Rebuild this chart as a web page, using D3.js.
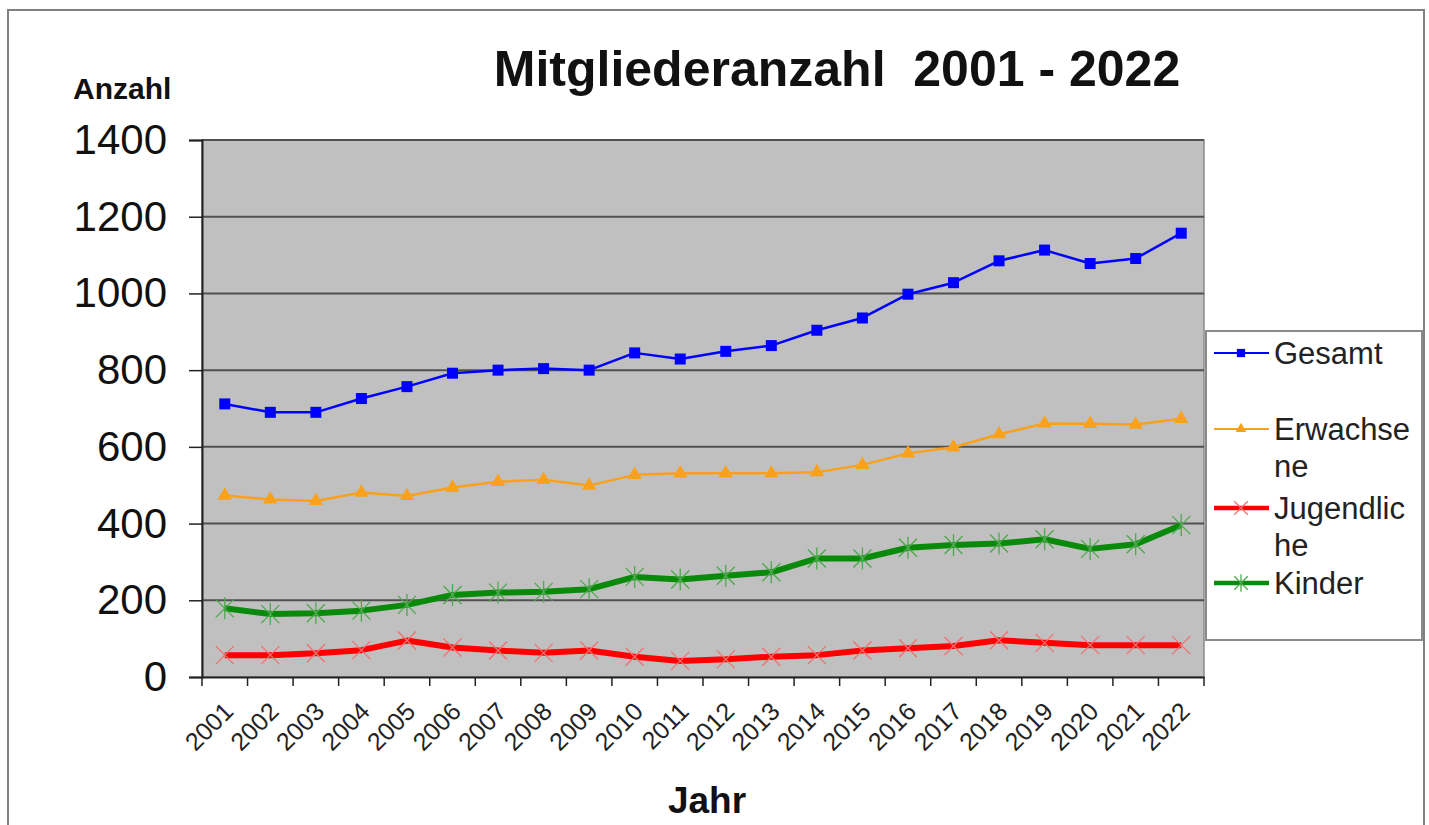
<!DOCTYPE html>
<html><head><meta charset="utf-8">
<script src="https://cdn.jsdelivr.net/npm/d3@7"></script>
<style>
html,body{margin:0;padding:0;background:#fff;}
svg{display:block;font-family:"Liberation Sans",Arial,sans-serif;}
</style></head>
<body>
<svg id="chart" width="1429" height="825"></svg>
<script>
const years = ["2001","2002","2003","2004","2005","2006","2007","2008","2009","2010","2011","2012","2013","2014","2015","2016","2017","2018","2019","2020","2021","2022"];
const gesamt = [712,690,690,726,757,792,800,804,800,845,829,849,864,904,936,998,1028,1085,1113,1078,1091,1157];
const erwachsene = [473,463,459,481,472,494,509,514,499,527,531,531,531,534,553,583,599,633,661,660,658,673];
const jugendliche = [57,57,62,70,95,77,69,63,69,53,42,46,53,57,69,75,81,96,89,83,83,83];
const kinder = [179,164,166,173,188,214,220,222,229,261,254,264,273,309,309,337,344,348,359,334,346,396];
const yTicks = [0,200,400,600,800,1000,1200,1400];
const seriesNames = ["Gesamt","Erwachsene","Jugendliche","Kinder"];
const legendLines = [["Gesamt"],["Erwachse","ne"],["Jugendlic","he"],["Kinder"]];

const svg = d3.select("#chart");
const L = 202, R = 1204, T = 140, B = 677;

// outer frame
svg.append("path").attr("d","M8,826 V10 H1424 V826").attr("fill","none").attr("stroke","#808080").attr("stroke-width",2);

const x = d3.scaleBand().domain(years).range([L,R]);
const y = d3.scaleLinear().domain([0,1400]).range([B,T]);

// plot background
svg.append("rect").attr("x",L).attr("y",T).attr("width",R-L).attr("height",B-T).attr("fill","#c0c0c0").attr("stroke","#8a8a8a").attr("stroke-width",1.5);

// gridlines
svg.append("g").selectAll("line").data(yTicks.filter(d=>d>0)).join("line")
  .attr("x1",L).attr("x2",R).attr("y1",d=>y(d)).attr("y2",d=>y(d))
  .attr("stroke","#505050").attr("stroke-width",2);

// y axis
const yAxis = svg.append("g").attr("transform",`translate(${L},0)`)
  .call(d3.axisLeft(y).tickValues(yTicks).tickSize(13).tickPadding(22).tickFormat(d3.format("d")));
yAxis.select(".domain").attr("stroke","#222").attr("stroke-width",2);
yAxis.selectAll(".tick line").attr("stroke","#222").attr("stroke-width",1.5);
yAxis.selectAll(".tick text").attr("font-size",42).attr("fill","#111").attr("font-family","Liberation Sans, Arial, sans-serif");

// x axis
const xAxis = svg.append("g").attr("transform",`translate(0,${B})`)
  .call(d3.axisBottom(x).tickSize(0).tickPadding(0));
xAxis.select(".domain").attr("stroke","#222").attr("stroke-width",2);
xAxis.selectAll(".tick text")
  .attr("font-size",25).attr("fill","#222").attr("font-family","Liberation Sans, Arial, sans-serif")
  .attr("text-anchor","end").attr("dy","0")
  .attr("transform","translate(10,36) rotate(-45)");
// tick marks at band boundaries
const bounds = years.map(d=>x(d)).concat([R]);
svg.append("g").selectAll("line").data(bounds).join("line")
  .attr("x1",d=>d).attr("x2",d=>d).attr("y1",B).attr("y2",B+9)
  .attr("stroke","#222").attr("stroke-width",1.5);

const cx = d => x(d) + x.bandwidth()/2;
const lineGen = vals => d3.line().x((d,i)=>cx(years[i])).y(d=>y(d))(vals);

const styles = [
  {vals:gesamt, color:"#0000ff", width:2.5, marker:"square"},
  {vals:erwachsene, color:"#f9a11b", width:2.5, marker:"triangle"},
  {vals:jugendliche, color:"#ff0000", width:6, marker:"x"},
  {vals:kinder, color:"#0a8a0a", width:6, marker:"star"}
];

function drawMarker(g, type, color, px, py, scale){
  scale = scale||1;
  if(type==="square"){
    const s=11*scale;
    g.append("rect").attr("x",px-s/2).attr("y",py-s/2).attr("width",s).attr("height",s).attr("fill","#0000ff");
  } else if(type==="triangle"){
    g.append("path").attr("d",d3.symbol().type(d3.symbolTriangle).size(90*scale*scale)()).attr("transform",`translate(${px},${py})`).attr("fill","#f9a11b");
  } else if(type==="x"){
    const s=9*scale;
    g.append("path").attr("d",`M${px-s},${py-s}L${px+s},${py+s}M${px-s},${py+s}L${px+s},${py-s}`).attr("stroke","#f07070").attr("stroke-width",1.3).attr("fill","none");
  } else if(type==="star"){
    const s=9*scale;
    g.append("path").attr("d",`M${px-s},${py-s}L${px+s},${py+s}M${px-s},${py+s}L${px+s},${py-s}M${px},${py-s-2}L${px},${py+s+2}`).attr("stroke","#4ca84c").attr("stroke-width",1.3).attr("fill","none");
  }
}

// draw series (order: Gesamt, Erwachsene, Jugendliche, Kinder)
styles.forEach(s=>{
  const g = svg.append("g");
  g.append("path").attr("d",lineGen(s.vals)).attr("fill","none").attr("stroke",s.color).attr("stroke-width",s.width).attr("stroke-linejoin","round");
  s.vals.forEach((v,i)=>drawMarker(g,s.marker,s.color,cx(years[i]),y(v)));
});

// legend
const lg = svg.append("g");
lg.append("rect").attr("x",1206).attr("y",331).attr("width",216).attr("height",309).attr("fill","#fff").attr("stroke","#8a8a8a").attr("stroke-width",2);
const legY = [353,429,508,583];
styles.forEach((s,i)=>{
  lg.append("line").attr("x1",1214).attr("x2",1269).attr("y1",legY[i]).attr("y2",legY[i]).attr("stroke",s.color).attr("stroke-width",s.width>3?4.5:2);
  drawMarker(lg,s.marker,s.color,1241,legY[i],0.75);
  const t = lg.append("text").attr("x",1274).attr("y",legY[i]+11).attr("font-size",31).attr("fill","#222");
  legendLines[i].forEach((ln,j)=>t.append("tspan").attr("x",1274).attr("dy",j===0?0:37).text(ln));
});

// titles
svg.append("text").attr("x",837).attr("y",86).attr("text-anchor","middle").attr("font-size",50).attr("font-weight","bold").attr("fill","#111").text("Mitgliederanzahl  2001 - 2022").style("white-space","pre");
svg.append("text").attr("x",73).attr("y",99).attr("font-size",30).attr("font-weight","bold").attr("fill","#111").text("Anzahl");
svg.append("text").attr("x",707).attr("y",813).attr("text-anchor","middle").attr("font-size",37).attr("font-weight","bold").attr("fill","#111").text("Jahr");
</script>
</body></html>
